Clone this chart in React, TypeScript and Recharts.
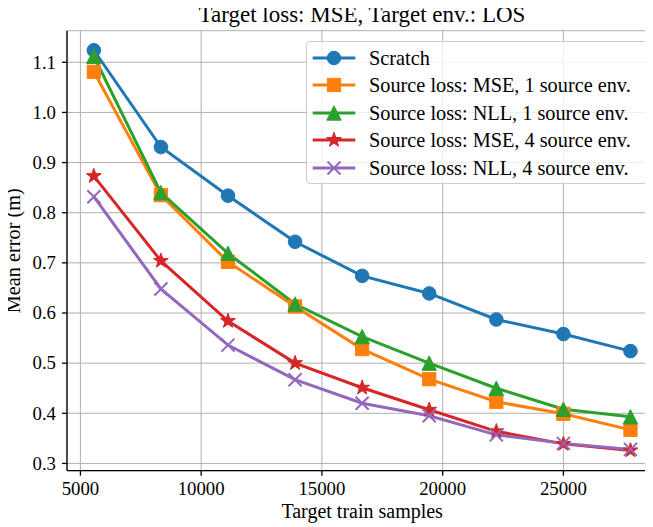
import React from 'react';
import { LineChart, Line, XAxis, YAxis, CartesianGrid, Label } from 'recharts';

const samples = [5556, 8333, 11111, 13889, 16667, 19444, 22222, 25000, 27778];
const scratch = [1.124, 0.931, 0.834, 0.742, 0.674, 0.639, 0.587, 0.558, 0.524];
const mse1 = [1.081, 0.835, 0.702, 0.613, 0.528, 0.468, 0.423, 0.399, 0.367];
const nll1 = [1.112, 0.840, 0.719, 0.618, 0.553, 0.500, 0.450, 0.408, 0.393];
const mse4 = [0.873, 0.704, 0.584, 0.500, 0.451, 0.407, 0.364, 0.339, 0.326];
const nll4 = [0.832, 0.648, 0.536, 0.467, 0.420, 0.395, 0.357, 0.340, 0.328];

const xTicks = [5000, 10000, 15000, 20000, 25000];
const yTicks = [0.3, 0.4, 0.5, 0.6, 0.7, 0.8, 0.9, 1.0, 1.1];

const titleText = 'Target loss: MSE, Target env.: LOS';
const xLabelText = 'Target train samples';
const yLabelText = 'Mean error (m)';

const seriesNames = [
  'Scratch',
  'Source loss: MSE, 1 source env.',
  'Source loss: NLL, 1 source env.',
  'Source loss: MSE, 4 source env.',
  'Source loss: NLL, 4 source env.',
];

const FONT = 'Liberation Serif';

const series = [
  { key: 'scratch', name: seriesNames[0], color: '#1f77b4', marker: 'circle' },
  { key: 'mse1', name: seriesNames[1], color: '#ff7f0e', marker: 'square' },
  { key: 'nll1', name: seriesNames[2], color: '#2ca02c', marker: 'triangle' },
  { key: 'mse4', name: seriesNames[3], color: '#d62728', marker: 'star' },
  { key: 'nll4', name: seriesNames[4], color: '#9467bd', marker: 'x' },
];

const data = samples.map((s, i) => ({
  x: s,
  scratch: scratch[i],
  mse1: mse1[i],
  nll1: nll1[i],
  mse4: mse4[i],
  nll4: nll4[i],
}));

function starPoints(cx: number, cy: number, R: number, r: number) {
  const pts: string[] = [];
  for (let i = 0; i < 10; i++) {
    const ang = -Math.PI / 2 + (i * Math.PI) / 5;
    const rad = i % 2 === 0 ? R : r;
    pts.push(`${cx + rad * Math.cos(ang)},${cy + rad * Math.sin(ang)}`);
  }
  return pts.join(' ');
}

function Marker({ type, cx, cy, color }: { type: string; cx: number; cy: number; color: string }) {
  if (cx == null || cy == null || isNaN(cx) || isNaN(cy)) return <g />;
  switch (type) {
    case 'circle':
      return <circle cx={cx} cy={cy} r={6.8} fill={color} stroke={color} strokeWidth={1} />;
    case 'square':
      return <rect x={cx - 6.6} y={cy - 6.6} width={13.2} height={13.2} fill={color} stroke={color} strokeWidth={1} />;
    case 'triangle':
      return (
        <polygon
          points={`${cx},${cy - 7.2} ${cx - 7.2},${cy + 7.2} ${cx + 7.2},${cy + 7.2}`}
          fill={color}
          stroke={color}
          strokeWidth={1}
        />
      );
    case 'star':
      return <polygon points={starPoints(cx, cy, 7.8, 3.1)} fill={color} stroke={color} strokeWidth={1} />;
    case 'x':
    default:
      return (
        <g stroke={color} strokeWidth={2}>
          <line x1={cx - 6.5} y1={cy - 6.5} x2={cx + 6.5} y2={cy + 6.5} />
          <line x1={cx - 6.5} y1={cy + 6.5} x2={cx + 6.5} y2={cy - 6.5} />
        </g>
      );
  }
}

const makeDot = (type: string, color: string) => (props: any) => (
  <Marker key={`${type}-${props.index}`} type={type} cx={props.cx} cy={props.cy} color={color} />
);

const XTick = (props: any) => {
  const { x, y, payload } = props;
  return (
    <text x={x} y={y + 12.3} textAnchor="middle" style={{ fontFamily: FONT, fontSize: 18.8 }} fill="#000">
      {payload.value}
    </text>
  );
};

const YTick = (props: any) => {
  const { x, y, payload } = props;
  return (
    <text x={x} y={y + 6.3} textAnchor="end" style={{ fontFamily: FONT, fontSize: 18.8 }} fill="#000">
      {Number(payload.value).toFixed(1)}
    </text>
  );
};

export default function App() {
  return (
    <div
      style={{
        width: 653,
        height: 527,
        marginTop: -8,
        marginLeft: -8,
        overflow: 'hidden',
        position: 'relative',
        fontFamily: FONT,
      }}
    >
      <LineChart
        width={668}
        height={527}
        data={data}
        margin={{ top: 30.7, right: 10.7, bottom: 0, left: 0 }}
      >
        <CartesianGrid stroke="#b0b0b0" strokeWidth={1} />
        <XAxis
          dataKey="x"
          type="number"
          domain={[4444.4, 28889]}
          ticks={xTicks}
          allowDataOverflow
          stroke="#000"
          strokeWidth={1.3}
          tickSize={5}
          tickMargin={7}
          tick={<XTick />}
          height={56.3}
          interval={0}
        >
          <Label
            content={(p: any) => {
              const vb = p.viewBox || {};
              return (
                <text
                  x={vb.x + vb.width / 2}
                  y={518}
                  textAnchor="middle"
                  style={{ fontFamily: FONT, fontSize: 20 }}
                  fill="#000"
                >
                  {xLabelText}
                </text>
              );
            }}
          />
        </XAxis>
        <XAxis
          xAxisId="top"
          orientation="top"
          dataKey="x"
          type="number"
          domain={[4444.4, 28889]}
          allowDataOverflow
          tick={false}
          tickLine={false}
          height={0}
          stroke="#000"
          strokeWidth={1.3}
        />
        <YAxis
          type="number"
          domain={[0.2855, 1.163]}
          ticks={yTicks}
          allowDataOverflow
          stroke="#000"
          strokeWidth={1.3}
          tickSize={5}
          tickMargin={6}
          tick={<YTick />}
          width={67}
          interval={0}
        >
          <Label
            content={(p: any) => {
              const vb = p.viewBox || {};
              const cy = vb.y + vb.height / 2;
              return (
                <text
                  x={20.5}
                  y={cy}
                  transform={`rotate(-90, 20.5, ${cy})`}
                  textAnchor="middle"
                  style={{ fontFamily: FONT, fontSize: 20.3 }}
                  fill="#000"
                >
                  {yLabelText}
                </text>
              );
            }}
          />
        </YAxis>
        {series.map((s) => (
          <Line
            key={s.key}
            dataKey={s.key}
            name={s.name}
            stroke={s.color}
            strokeWidth={3}
            type="linear"
            dot={makeDot(s.marker, s.color)}
            activeDot={false}
            isAnimationActive={false}
          />
        ))}
      </LineChart>
      <div
        style={{
          position: 'absolute',
          left: 0,
          top: 2.75,
          width: 724,
          textAlign: 'center',
          fontSize: 23,
          lineHeight: '23px',
          color: '#000',
          whiteSpace: 'nowrap',
          fontFamily: FONT,
        }}
      >
        {titleText}
      </div>
      <div
        style={{
          position: 'absolute',
          left: 306,
          top: 40.7,
          width: 341.7,
          height: 143.3,
          boxSizing: 'border-box',
          border: '1px solid #cccccc',
          borderRadius: 4,
          background: 'rgba(255,255,255,0.8)',
          fontSize: 20.3,
          color: '#000',
          fontFamily: FONT,
        }}
      >
        {series.map((s, i) => (
          <div
            key={s.key}
            style={{
              position: 'absolute',
              left: 0,
              top: 16 + i * 27.6 - 14,
              height: 28,
              display: 'flex',
              alignItems: 'center',
              whiteSpace: 'nowrap',
            }}
          >
            <svg width={62} height={28} style={{ display: 'block' }}>
              <line x1={5.7} y1={14} x2={48.3} y2={14} stroke={s.color} strokeWidth={3} />
              <Marker type={s.marker} cx={27} cy={14} color={s.color} />
            </svg>
            <span style={{ lineHeight: '28px' }}>{s.name}</span>
          </div>
        ))}
      </div>
    </div>
  );
}
